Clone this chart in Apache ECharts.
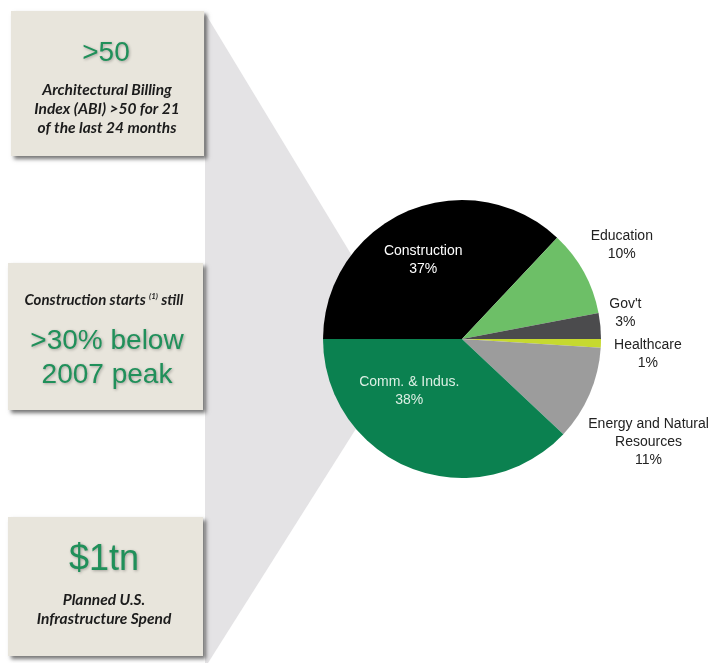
<!DOCTYPE html>
<html>
<head>
<meta charset="utf-8">
<script src="https://cdn.jsdelivr.net/npm/echarts@6/dist/echarts.min.js"></script>
<style>
  html, body { margin: 0; padding: 0; background: #fff; }
  #main { width: 718px; height: 663px; }
</style>
</head>
<body>
<div id="main"></div>
<script>
// market mix by end sector (percent)
var sectors = ['Construction', 'Education', "Gov't", 'Healthcare', 'Energy and Natural\nResources', 'Comm. & Indus.'];
var shares = [37, 10, 3, 1, 11, 38];
var sectorColors = ['#000000', '#6dbf67', '#4b4b4d', '#c6d930', '#9c9c9c', '#0b8150'];

// left hand call-out boxes
var calloutBig = ['>50', '>30% below\n2007 peak', '$1tn'];
var calloutSmall = [
    'Architectural Billing\nIndex (ABI) >50 for 21\nof the last 24 months',
    '{t|Construction starts }{s|(1)}{t| still}',
    'Planned U.S.\nInfrastructure Spend'
];

// label nudges from the default pie label spot
var labelShift = [[-10, -12], [38, -27], [25, -13], [47, 11], [59, 48], [-26, -15]];

var green = '#20905a';
var boxFill = '#e8e5dc';
var smallFont = 'italic bold 15.5px Lato';

function box(x, y, w, h) {
    return {
        type: 'rect',
        shape: { x: x, y: y, width: w, height: h },
        style: {
            fill: boxFill,
            shadowColor: 'rgba(0,0,0,0.55)',
            shadowBlur: 4,
            shadowOffsetX: 3,
            shadowOffsetY: 3
        },
        z: 1
    };
}

function bigText(txt, x, y, size) {
    return {
        type: 'text',
        z: 2,
        style: {
            x: x, y: y,
            text: txt,
            font: size + 'px "Liberation Sans", Arial',
            fill: green,
            align: 'center',
            verticalAlign: 'middle',
            lineHeight: size * 1.2,
            textShadowColor: 'rgba(0,0,0,0.3)',
            textShadowBlur: 3,
            textShadowOffsetX: 1,
            textShadowOffsetY: 1
        }
    };
}

function smallText(txt, x, y) {
    return {
        type: 'text',
        z: 2,
        style: {
            x: x, y: y,
            text: txt,
            font: smallFont,
            fill: '#1c1c1c',
            align: 'center',
            verticalAlign: 'middle',
            lineHeight: 19
        }
    };
}

var myChart = echarts.init(document.getElementById('main'));

var pieData = sectors.map(function (name, i) {
    var inside = (i === 0 || i === 5);
    return {
        name: name,
        value: shares[i],
        itemStyle: { color: sectorColors[i] },
        label: {
            position: inside ? 'inside' : 'outside',
            color: i === 0 ? '#ffffff' : (i === 5 ? '#dcefe4' : '#222222')
        }
    };
});

var option = {
    backgroundColor: '#ffffff',
    animation: false,
    graphic: {
        elements: [
            {
                type: 'polygon',
                z: 0,
                shape: { points: [[205, 13], [400, 335], [400, 359], [208, 663], [205, 663]] },
                style: { fill: '#e4e3e5' }
            },
            box(11, 11, 193, 145),
            box(8, 263, 195, 147),
            box(8, 517, 195, 139),
            bigText(calloutBig[0], 106, 53, 28),
            smallText(calloutSmall[0], 107, 109),
            {
                type: 'text',
                z: 2,
                style: {
                    x: 104, y: 300,
                    text: calloutSmall[1],
                    align: 'center',
                    verticalAlign: 'middle',
                    rich: {
                        t: { font: 'italic bold 15px Lato', fill: '#1c1c1c' },
                        s: { font: 'italic bold 8px Lato', fill: '#1c1c1c', verticalAlign: 'top', padding: [0, 0, 7, 0] }
                    }
                }
            },
            bigText(calloutBig[1], 107, 358, 28),
            bigText(calloutBig[2], 104, 560, 36),
            smallText(calloutSmall[2], 104, 609)
        ]
    },
    series: [{
        type: 'pie',
        z: 3,
        center: [462, 339],
        radius: 139,
        startAngle: 180,
        clockwise: true,
        avoidLabelOverlap: false,
        silent: true,
        itemStyle: { borderWidth: 0 },
        label: {
            show: true,
            formatter: function (p) {
                return p.name + '\n' + p.value + '%';
            },
            fontFamily: '"Liberation Sans", Arial',
            fontSize: 14,
            lineHeight: 18,
            distanceToLabelLine: 0
        },
        labelLine: { show: false, length: 0, length2: 0 },
        labelLayout: function (params) {
            var s = labelShift[params.dataIndex];
            return { dx: s[0], dy: s[1], align: 'center' };
        },
        data: pieData
    }]
};

myChart.setOption(option, true);
</script>
</body>
</html>
